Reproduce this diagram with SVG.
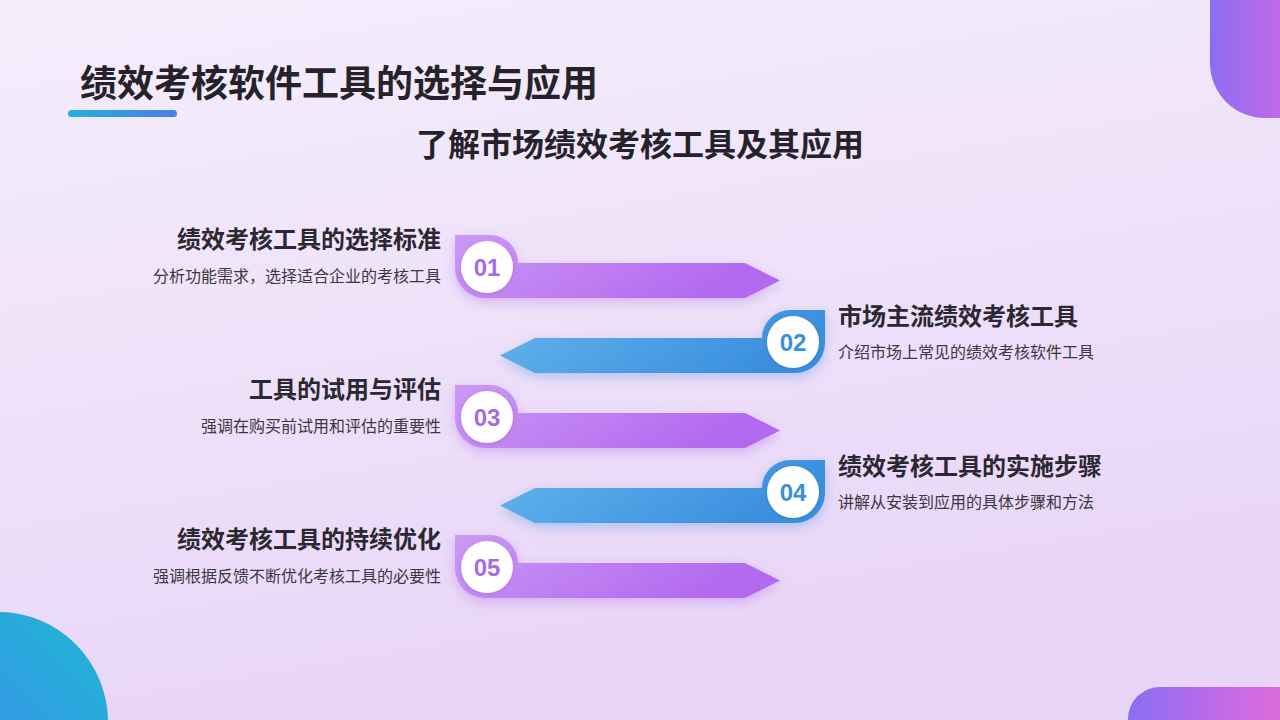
<svg xmlns="http://www.w3.org/2000/svg" width="1280" height="720" viewBox="0 0 1280 720">
<defs>
<linearGradient id="bg" x1="0" y1="0" x2="0.3" y2="1">
<stop offset="0" stop-color="#f4eefc"/>
<stop offset="1" stop-color="#e9d5f7"/>
</linearGradient>
<linearGradient id="gPink" x1="0" y1="0" x2="1" y2="0">
<stop offset="0" stop-color="#8b6df2"/>
<stop offset="0.5" stop-color="#c46ae8"/>
<stop offset="1" stop-color="#f36ccc"/>
</linearGradient>
<linearGradient id="gCyan" x1="0" y1="1" x2="1" y2="0">
<stop offset="0" stop-color="#4b7cf5"/>
<stop offset="1" stop-color="#1db8d3"/>
</linearGradient>
<linearGradient id="gBar" x1="0" y1="0" x2="1" y2="0">
<stop offset="0" stop-color="#1fb3d8"/>
<stop offset="1" stop-color="#4b7cf0"/>
</linearGradient>
<linearGradient id="gPurple" x1="0" y1="0" x2="1" y2="0.3">
<stop offset="0" stop-color="#cc98f6"/>
<stop offset="1" stop-color="#b268ef"/>
</linearGradient>
<linearGradient id="gBlue" x1="0" y1="0" x2="1" y2="0.3">
<stop offset="0" stop-color="#64b5ec"/>
<stop offset="1" stop-color="#3a8fde"/>
</linearGradient>
<filter id="shP" x="-10%" y="-40%" width="120%" height="180%">
<feDropShadow dx="0" dy="4" stdDeviation="6" flood-color="#a55ee8" flood-opacity="0.35"/>
</filter>
<filter id="shB" x="-10%" y="-40%" width="120%" height="180%">
<feDropShadow dx="0" dy="4" stdDeviation="6" flood-color="#3a8fde" flood-opacity="0.35"/>
</filter>
<filter id="shC" x="-30%" y="-30%" width="160%" height="160%">
<feDropShadow dx="0" dy="1" stdDeviation="2" flood-color="#000" flood-opacity="0.12"/>
</filter>
</defs>
<style>
.h1{font-family:"Noto Sans CJK SC","Noto Sans",sans-serif;font-weight:bold;font-size:37px;fill:#252329}
.h2{font-family:"Noto Sans CJK SC","Noto Sans",sans-serif;font-weight:bold;font-size:32px;fill:#252329}
.t{font-family:"Noto Sans CJK SC","Noto Sans",sans-serif;font-weight:bold;font-size:24px;fill:#2a2830}
.s{font-family:"Noto Sans CJK SC","Noto Sans",sans-serif;font-size:16px;fill:#3a3840}
.num{font-family:"Liberation Sans","Noto Sans",sans-serif;font-weight:bold;font-size:24px;text-anchor:middle}
.np{fill:#a76ae6}
.nb{fill:#3a8fdb}
.l{text-anchor:end}
</style>
<rect width="1280" height="720" fill="url(#bg)"/>
<rect x="1210" y="-100" width="150" height="218" rx="55" fill="url(#gPink)"/>
<circle cx="-2" cy="722" r="110" fill="url(#gCyan)"/>
<rect x="1128" y="687" width="200" height="100" rx="32" fill="url(#gPink)"/>
<g id="title">
<text class="h1" x="80" y="97">绩效考核软件工具的选择与应用</text>
<rect x="68" y="110" width="109" height="7" rx="3.5" fill="url(#gBar)"/>
<text class="h2" x="640" y="156" text-anchor="middle">了解市场绩效考核工具及其应用</text>
</g>
<g id="item1" transform="translate(0,235)">
<path d="M455,0 H490 A28,28 0 0 1 518,28 H745 L780,45.5 L745,63 H485 A30,30 0 0 1 455,33 Z" fill="url(#gPurple)" filter="url(#shP)"/>
<circle cx="487" cy="32" r="26" fill="#fff" filter="url(#shC)"/>
<text class="num np" x="487" y="41">01</text>
<text class="t l" x="441" y="13">绩效考核工具的选择标准</text>
<text class="s l" x="441" y="47">分析功能需求，选择适合企业的考核工具</text>
</g>
<g id="item2" transform="translate(0,310)">
<path d="M825,0 H790 A28,28 0 0 0 762,28 H535 L500,45.5 L535,63 H795 A30,30 0 0 0 825,33 Z" fill="url(#gBlue)" filter="url(#shB)"/>
<circle cx="793" cy="32" r="26" fill="#fff" filter="url(#shC)"/>
<text class="num nb" x="793" y="41">02</text>
<text class="t" x="838" y="15">市场主流绩效考核工具</text>
<text class="s" x="838" y="48">介绍市场上常见的绩效考核软件工具</text>
</g>
<g id="item3" transform="translate(0,385)">
<path d="M455,0 H490 A28,28 0 0 1 518,28 H745 L780,45.5 L745,63 H485 A30,30 0 0 1 455,33 Z" fill="url(#gPurple)" filter="url(#shP)"/>
<circle cx="487" cy="32" r="26" fill="#fff" filter="url(#shC)"/>
<text class="num np" x="487" y="41">03</text>
<text class="t l" x="441" y="13">工具的试用与评估</text>
<text class="s l" x="441" y="47">强调在购买前试用和评估的重要性</text>
</g>
<g id="item4" transform="translate(0,460)">
<path d="M825,0 H790 A28,28 0 0 0 762,28 H535 L500,45.5 L535,63 H795 A30,30 0 0 0 825,33 Z" fill="url(#gBlue)" filter="url(#shB)"/>
<circle cx="793" cy="32" r="26" fill="#fff" filter="url(#shC)"/>
<text class="num nb" x="793" y="41">04</text>
<text class="t" x="838" y="15">绩效考核工具的实施步骤</text>
<text class="s" x="838" y="48">讲解从安装到应用的具体步骤和方法</text>
</g>
<g id="item5" transform="translate(0,535)">
<path d="M455,0 H490 A28,28 0 0 1 518,28 H745 L780,45.5 L745,63 H485 A30,30 0 0 1 455,33 Z" fill="url(#gPurple)" filter="url(#shP)"/>
<circle cx="487" cy="32" r="26" fill="#fff" filter="url(#shC)"/>
<text class="num np" x="487" y="41">05</text>
<text class="t l" x="441" y="13">绩效考核工具的持续优化</text>
<text class="s l" x="441" y="47">强调根据反馈不断优化考核工具的必要性</text>
</g>
<g id="connectors"></g>
</svg>
